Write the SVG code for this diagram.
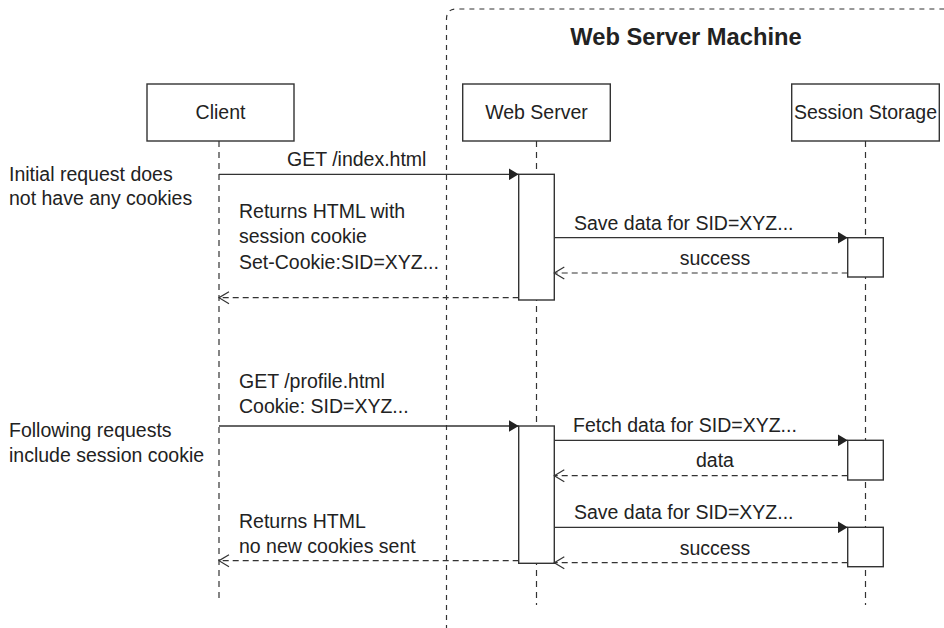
<svg xmlns="http://www.w3.org/2000/svg" width="944" height="628" viewBox="0 0 944 628">
<style>
text{font-family:"Liberation Sans",Arial,sans-serif;font-size:19.5px;fill:#222}
.title{font-weight:bold;font-size:23.7px;text-anchor:middle}
.mid{text-anchor:middle}
.box{fill:#fff;stroke:#333;stroke-width:1.4}
.life{stroke:#333;stroke-width:1.2;stroke-dasharray:6 5;fill:none}
.frame{stroke:#333;stroke-width:1.2;stroke-dasharray:5 5;fill:none}
.msg{stroke:#333;stroke-width:1.3;fill:none;marker-end:url(#solid)}
.ret{stroke:#333;stroke-width:1.2;stroke-dasharray:6 4;fill:none;marker-end:url(#open)}
</style>
<defs>
<marker id="solid" viewBox="0 0 10 12" markerUnits="userSpaceOnUse" markerWidth="10" markerHeight="12" refX="10" refY="6" orient="auto">
<path d="M0,0 L10,6 L0,12 z" fill="#222"/>
</marker>
<marker id="open" viewBox="-1 -1 12 14" markerUnits="userSpaceOnUse" markerWidth="12" markerHeight="14" refX="10" refY="6" orient="auto">
<path d="M0,0 L10,6 L0,12" fill="none" stroke="#333" stroke-width="1.2"/>
</marker>
</defs>
<rect width="944" height="628" fill="#fff"/>
<g id="frame">
<path class="frame" d="M446.5,630 L446.5,19 Q446.5,9 456.5,9 L950,9"/>
<text class="title" x="686" y="45">Web Server Machine</text>
</g>
<g id="client">
<line class="life" x1="219" y1="141" x2="219" y2="602"/>
<rect class="box" x="147" y="84" width="147" height="57"/>
<text class="mid" x="220.5" y="118.5">Client</text>
</g>
<g id="webserver">
<line class="life" x1="536.5" y1="141" x2="536.5" y2="605"/>
<rect class="box" x="462.7" y="84" width="147.6" height="57"/>
<text class="mid" x="536.5" y="118.5">Web Server</text>
</g>
<g id="session">
<line class="life" x1="865.5" y1="141" x2="865.5" y2="605"/>
<rect class="box" x="791.7" y="84" width="147.6" height="57"/>
<text class="mid" x="865.5" y="118.5">Session Storage</text>
</g>
<g id="activations">
<rect class="box" x="518.7" y="174.3" width="35.6" height="125.7"/>
<rect class="box" x="847.7" y="237.7" width="35.6" height="39.3"/>
<rect class="box" x="518.7" y="426" width="35.6" height="137.3"/>
<rect class="box" x="847.7" y="440.3" width="35.6" height="39.7"/>
<rect class="box" x="847.7" y="527.3" width="35.6" height="39.4"/>
</g>
<g id="connectors">
<line class="msg" x1="219" y1="174.3" x2="518.7" y2="174.3"/>
<line class="msg" x1="554.3" y1="237.7" x2="847.7" y2="237.7"/>
<line class="ret" x1="847.7" y1="273" x2="554.3" y2="273"/>
<line class="ret" x1="518.7" y1="297.7" x2="219" y2="297.7"/>
<line class="msg" x1="219" y1="426" x2="518.7" y2="426"/>
<line class="msg" x1="554.3" y1="440.3" x2="847.7" y2="440.3"/>
<line class="ret" x1="847.7" y1="475.7" x2="554.3" y2="475.7"/>
<line class="msg" x1="554.3" y1="527.3" x2="847.7" y2="527.3"/>
<line class="ret" x1="847.7" y1="562.7" x2="554.3" y2="562.7"/>
<line class="ret" x1="518.7" y1="560.7" x2="219" y2="560.7"/>
</g>
<g id="labels">
<text x="9" y="181">Initial request does</text>
<text x="9" y="205">not have any cookies</text>
<text x="287" y="165.5">GET /index.html</text>
<text x="239" y="218">Returns HTML with</text>
<text x="239" y="243">session cookie</text>
<text x="239" y="269">Set-Cookie:SID=XYZ...</text>
<text x="574" y="230">Save data for SID=XYZ...</text>
<text class="mid" x="715" y="265">success</text>
<text x="9" y="436.7">Following requests</text>
<text x="9" y="461.7">include session cookie</text>
<text x="239" y="388.3">GET /profile.html</text>
<text x="239" y="413">Cookie: SID=XYZ...</text>
<text x="573" y="431.7">Fetch data for SID=XYZ...</text>
<text class="mid" x="715" y="467.3">data</text>
<text x="574" y="519.3">Save data for SID=XYZ...</text>
<text class="mid" x="715" y="555">success</text>
<text x="239" y="528">Returns HTML</text>
<text x="239" y="553">no new cookies sent</text>
</g>
</svg>
